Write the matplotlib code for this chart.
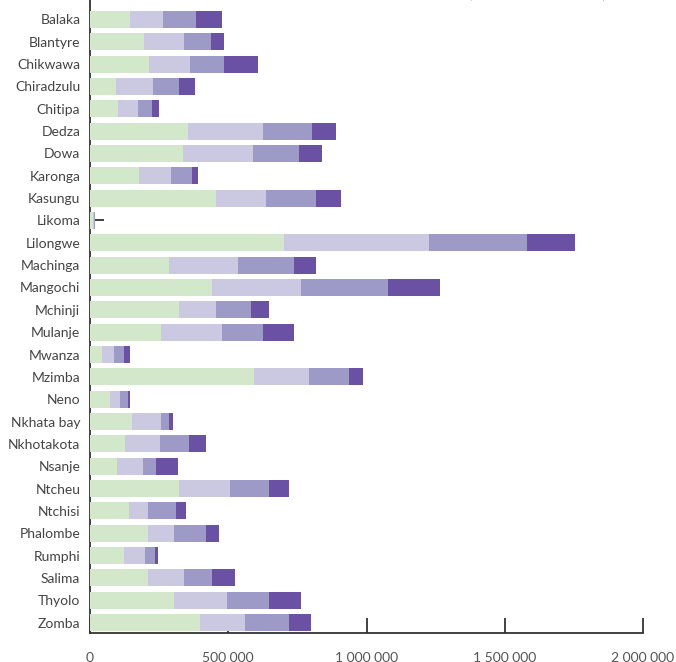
import matplotlib
matplotlib.use("Agg")
import matplotlib.pyplot as plt
import numpy as np

districts = ["Balaka", "Blantyre", "Chikwawa", "Chiradzulu", "Chitipa", "Dedza", "Dowa",
             "Karonga", "Kasungu", "Likoma", "Lilongwe", "Machinga", "Mangochi", "Mchinji",
             "Mulanje", "Mwanza", "Mzimba", "Neno", "Nkhata bay", "Nkhotakota", "Nsanje",
             "Ntcheu", "Ntchisi", "Phalombe", "Rumphi", "Salima", "Thyolo", "Zomba"]

# values in thousands, four stacked segments per district
seg1 = [145, 196, 214, 94, 102, 356, 338, 178, 454, 11, 700, 287, 443, 323,
        258, 44, 592, 73, 152, 127, 98, 323, 142, 211, 123, 211, 305, 399]
seg2 = [120, 145, 149, 135, 72, 268, 250, 116, 181, 3.5, 527, 247, 319, 131,
        221, 43, 199, 36, 106, 127, 94, 182, 69, 94, 77, 130, 192, 160]
seg3 = [120, 98, 123, 94, 51, 178, 167, 76, 182, 3.5, 353, 203, 316, 127,
        145, 36, 146, 29, 29, 105, 48, 141, 101, 116, 36, 102, 149, 160]
seg4 = [94, 47, 120, 55, 25, 87, 84, 22, 91, 0.5, 174, 80, 189, 65,
        113, 22, 50, 7, 14, 62, 79, 73, 36, 47, 11, 80, 116, 80]

likoma_err = 33  # thousands, small line drawn at Likoma

xticks = [0, 500000, 1000000, 1500000, 2000000]
xticklabels = ["0", "500 000", "1 000 000", "1 500 000", "2 000 000"]

title_text = "(absolute numbers)"

colors = ["#d3e8cb", "#cbc9e1", "#9e9ac8", "#6a51a3"]

plt.rcParams["font.family"] = ["Lato", "DejaVu Sans"]

fig = plt.figure(figsize=(6.76, 6.62), dpi=100)
ax = fig.add_axes([90 / 676, (662 - 633) / 662, (643 - 90) / 676, 633 / 662])

y = np.arange(len(districts))
segs = [np.array(s) * 1000 for s in (seg1, seg2, seg3, seg4)]
left = np.zeros(len(districts))
for s, c in zip(segs, colors):
    ax.barh(y, s, left=left, height=0.76, color=c, zorder=3, linewidth=0)
    left = left + s

li = districts.index("Likoma")
ax.errorbar(left[li], y[li], xerr=[[0], [likoma_err * 1000]], fmt="none",
            ecolor="#333333", elinewidth=1.3, capsize=0, zorder=4)

ax.set_xlim(0, 2000000)
ax.set_ylim(27.47, -0.873)
ax.set_yticks(y)
ax.set_yticklabels(districts)
ax.set_xticks(xticks)
ax.set_xticklabels(xticklabels)

for side in ("top", "right"):
    ax.spines[side].set_visible(False)
for side in ("left", "bottom"):
    ax.spines[side].set_color("#333333")
    ax.spines[side].set_linewidth(1.3)
    ax.spines[side].set_zorder(2)

ax.tick_params(axis="y", length=0, pad=7, labelsize=10, labelcolor="#444444")
ax.tick_params(axis="x", direction="in", length=11, width=1.3, color="#333333",
               pad=13.5, labelsize=10, labelcolor="#555555")
ax.set_axisbelow(True)

fig.text(537 / 676, 1.0 + 2.0 / 662, title_text,
         ha="center", va="baseline", color="#1f6db5", fontsize=12)

fig.savefig("out.png", dpi=100)
